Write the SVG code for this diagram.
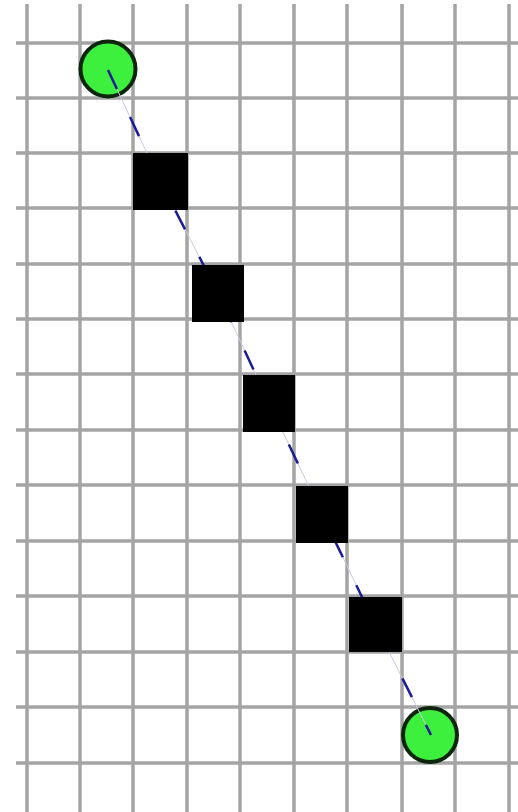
<svg xmlns="http://www.w3.org/2000/svg" width="518" height="812" viewBox="0 0 518 812">
<style>
.grid line{stroke:#a4a4a4;stroke-width:3.5}
.sq{fill:#000}
.end{fill:#3ef03e;stroke:#0c260c;stroke-width:4}
.path-under{fill:none;stroke:#c8c8e8;stroke-width:1}
.path{fill:none;stroke:#1c1c96;stroke-width:2.5;stroke-dasharray:21 31}
</style>
<rect width="518" height="812" fill="#fff"/>
<g class="grid" id="grid">
<line x1="27" y1="4" x2="27" y2="812"/>
<line x1="80" y1="4" x2="80" y2="812"/>
<line x1="133" y1="4" x2="133" y2="812"/>
<line x1="187" y1="4" x2="187" y2="812"/>
<line x1="240" y1="4" x2="240" y2="812"/>
<line x1="294" y1="4" x2="294" y2="812"/>
<line x1="347" y1="4" x2="347" y2="812"/>
<line x1="402" y1="4" x2="402" y2="812"/>
<line x1="455" y1="4" x2="455" y2="812"/>
<line x1="509" y1="4" x2="509" y2="812"/>
<line x1="16" y1="43" x2="518" y2="43"/>
<line x1="16" y1="98" x2="518" y2="98"/>
<line x1="16" y1="153" x2="518" y2="153"/>
<line x1="16" y1="208" x2="518" y2="208"/>
<line x1="16" y1="264" x2="518" y2="264"/>
<line x1="16" y1="319" x2="518" y2="319"/>
<line x1="16" y1="374" x2="518" y2="374"/>
<line x1="16" y1="430" x2="518" y2="430"/>
<line x1="16" y1="485" x2="518" y2="485"/>
<line x1="16" y1="541" x2="518" y2="541"/>
<line x1="16" y1="596" x2="518" y2="596"/>
<line x1="16" y1="652" x2="518" y2="652"/>
<line x1="16" y1="707" x2="518" y2="707"/>
<line x1="16" y1="763" x2="518" y2="763"/>
</g>
<g id="start"><circle class="end" cx="108" cy="69" r="27.5"/></g>
<g id="goal"><circle class="end" cx="430" cy="735" r="27"/></g>
<g id="connectors">
<polyline class="path-under" points="108,70 160,181 218,293 269,403 322,514 375,624 431,735"/>
<polyline class="path" points="108,70 160,181 218,293 269,403 322,514 375,624 431,735"/>
</g>
<g id="n1"><rect class="sq" x="133" y="153" width="55" height="57"/></g>
<g id="n2"><rect class="sq" x="192" y="265" width="52" height="57"/></g>
<g id="n3"><rect class="sq" x="243" y="375" width="52" height="57"/></g>
<g id="n4"><rect class="sq" x="296" y="486" width="52" height="57"/></g>
<g id="n5"><rect class="sq" x="349" y="597" width="53" height="55"/></g>
</svg>
